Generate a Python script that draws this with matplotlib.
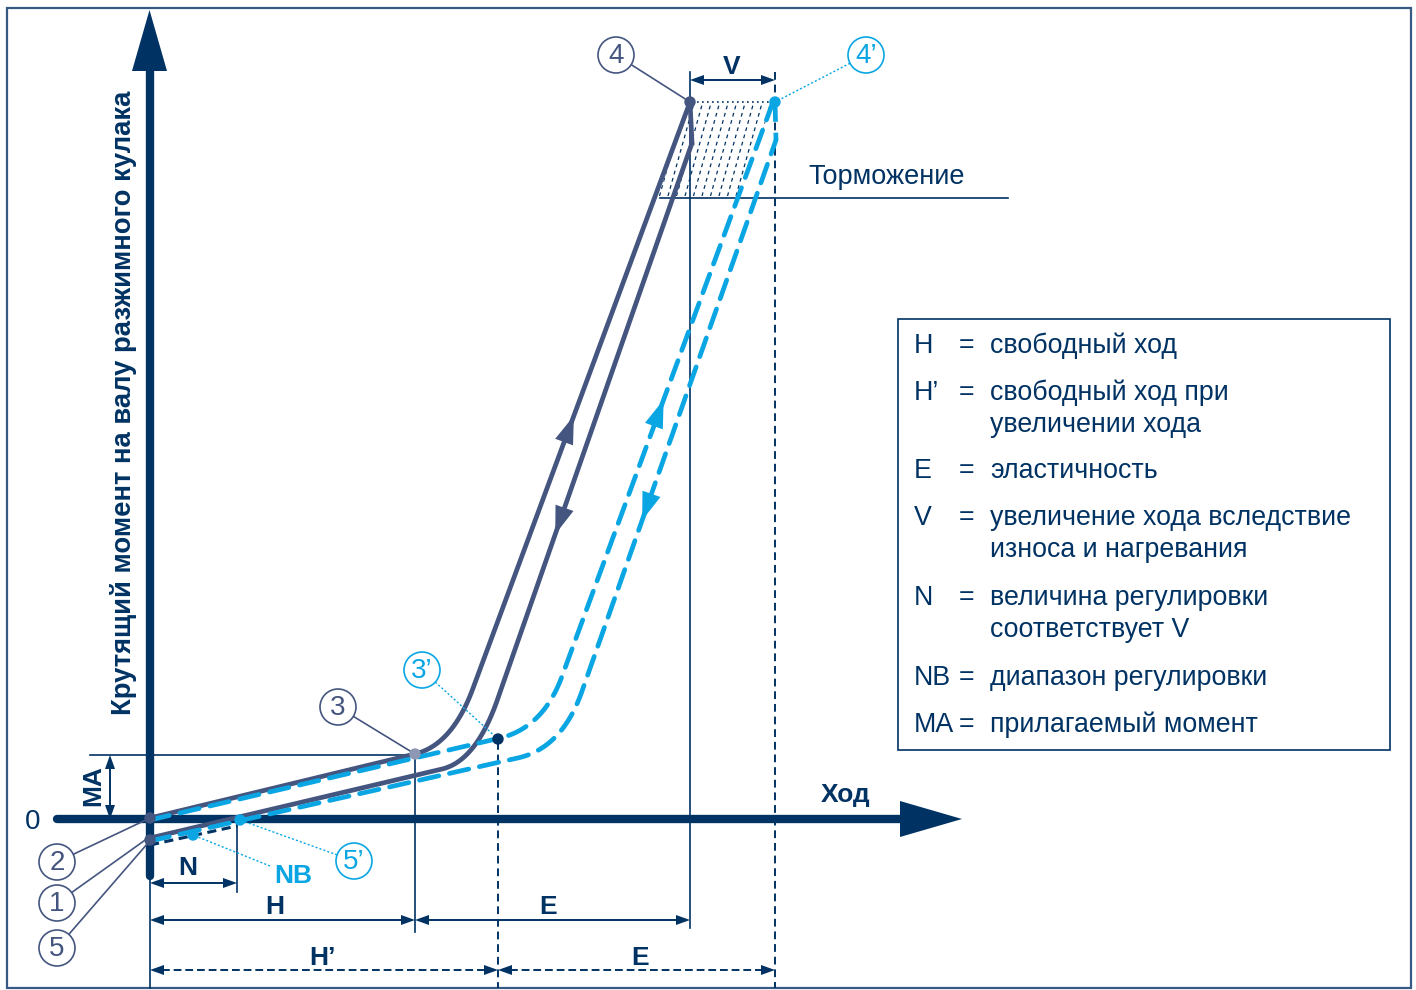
import numpy as np
import matplotlib
matplotlib.use("Agg")
import matplotlib.pyplot as plt
from matplotlib.patches import Polygon, Circle, Rectangle

plt.rcParams['font.family'] = ['Liberation Sans', 'DejaVu Sans']

NAVY = '#003263'
SLATE = '#44557f'
BLUE = '#0aa6e4'
GREY = '#8d99b4'

# key points of the curves (pixel space, y down)
upper_solid = [(150, 818), (452, 745), (690, 102)]
lower_solid = [(150, 838), (476, 761), (692, 143)]
upper_blue = [(150, 820), (543, 728), (773, 102)]
lower_blue = [(150, 841), (562, 748), (776, 140)]
bend_solid = [(38, 60), (35, 65)]
bend_blue = [(45, 55), (45, 60)]
adjust_dash = [(150, 845), (237, 826)]

# direction arrows on the straight parts: curve, y, +1 up / -1 down
flow_arrows = [('upper_solid', 428, 1), ('lower_solid', 522, -1),
               ('upper_blue', 412, 1), ('lower_blue', 508, -1)]

# marked points
dots = [(150, 818, SLATE), (150, 840, SLATE), (415, 754, GREY), (498, 739, NAVY),
        (690, 102, SLATE), (775, 102, BLUE), (193, 835, BLUE), (240, 820, BLUE)]

# circled labels: text, centre, leader end, colour
circles = [("4", (616, 55), (690, 102), SLATE), ("4’", (866, 55), (775, 102), BLUE),
           ("3", (338, 707), (415, 754), SLATE), ("3’", (422, 670), (498, 739), BLUE),
           ("2", (57, 862), (150, 818), SLATE), ("1", (57, 903), (148, 838), SLATE),
           ("5", (57, 948), (148, 843), SLATE), ("5’", (354, 861), (240, 820), BLUE)]

# dimension x positions
x_origin, x_n, x_h, x_hp, x_e, x_ep = 150, 237, 415, 498, 690, 775
y_ma = 755

legend_sym = ["H", "H’", "E", "V", "N", "NB", "MA"]
legend_txt = [["свободный ход"], ["свободный ход при", "увеличении хода"], ["эластичность"],
              ["увеличение хода вследствие", "износа и нагревания"],
              ["величина регулировки", "соответствует V"], ["диапазон регулировки"],
              ["прилагаемый момент"]]
legend_y = [346, 393, 471, 518, 598, 678, 725]


def rounded(pts, d1, d2, n=40):
    p0, c, p2 = [np.array(p, float) for p in pts]
    a = c + (p0 - c) / np.linalg.norm(p0 - c) * d1
    b = c + (p2 - c) / np.linalg.norm(p2 - c) * d2
    t = np.linspace(0, 1, n)[:, None]
    q = (1 - t) ** 2 * a + 2 * (1 - t) * t * c + t ** 2 * b
    path = np.vstack([p0, q, p2])
    return path[:, 0], path[:, 1]


def tri(ax, tip, direction, color, L=14, W=10):
    u = np.array(direction, float)
    u /= np.linalg.norm(u)
    nrm = np.array([-u[1], u[0]])
    tip = np.array(tip, float)
    base = tip - u * L
    ax.add_patch(Polygon([tip, base + nrm * W / 2, base - nrm * W / 2],
                         closed=True, color=color, lw=0, zorder=6))


def dim(ax, x1, x2, y, ls='-'):
    if ls == '--':
        ax.plot([x1 + 12, x2 - 12], [y, y], color=NAVY, lw=1.4, dashes=(4, 2))
    else:
        ax.plot([x1 + 12, x2 - 12], [y, y], color=NAVY, lw=1.4)
    tri(ax, (x1, y), (-1, 0), NAVY)
    tri(ax, (x2, y), (1, 0), NAVY)


fig = plt.figure(figsize=(14.16, 9.9), dpi=100)
ax = fig.add_axes([0, 0, 1, 1])
ax.set_xlim(0, 1416)
ax.set_ylim(990, 0)
ax.axis('off')

# frame
ax.add_patch(Rectangle((7, 8), 1404, 980, fill=False, ec='#365a83', lw=1.6))

# hatched braking zone between the two left rising lines
zone = Polygon([(690, 102), (773, 102), (738, 196), (658, 196)], closed=True, fc='none', ec='none')
ax.add_patch(zone)
for x0 in np.arange(600, 790, 8.5):
    ln, = ax.plot([x0, x0 + 0.28 * 94], [196, 102], color=NAVY, lw=0.9, dashes=(3, 3))
    ln.set_clip_path(zone)
ax.plot([692, 775], [102, 102], color=NAVY, lw=1.2, ls=(0, (1, 2)))

# reference lines
ax.plot([660, 1008], [198, 198], color=NAVY, lw=1.2)
ax.plot([90, x_h], [y_ma, y_ma], color=NAVY, lw=1.2)
ax.plot([x_h, x_h], [y_ma, 932], color=NAVY, lw=1.2)
ax.plot([x_e, x_e], [72, 928], color=NAVY, lw=1.2)
ax.plot([x_hp, x_hp], [742, 988], color=NAVY, lw=1.4, dashes=(4, 2.5))
ax.plot([x_ep, x_ep], [72, 988], color=NAVY, lw=1.4, dashes=(4, 2.5))
ax.plot([x_origin, x_origin], [870, 988], color=NAVY, lw=1.2)
ax.plot([x_n, x_n], [822, 892], color=NAVY, lw=1.2)

# axes
ax.plot([150, 150], [876, 70], color=NAVY, lw=6, solid_capstyle='round', zorder=3)
ax.add_patch(Polygon([(132, 71), (167, 71), (149.5, 10)], closed=True, color=NAVY, lw=0, zorder=3))
ax.plot([57, 902], [819, 819], color=NAVY, lw=6, solid_capstyle='round', zorder=3)
ax.add_patch(Polygon([(900, 801), (900, 837), (962, 819)], closed=True, color=NAVY, lw=0, zorder=3))

# curves
for pts, (d1, d2) in zip([upper_solid, lower_solid], bend_solid):
    x, y = rounded(pts, d1, d2)
    ax.plot(x, y, color=SLATE, lw=3.4, solid_capstyle='round', zorder=4)
ax.plot([690, lower_solid[2][0]], [102, lower_solid[2][1]], color=SLATE, lw=3.4, zorder=4)
for pts, (d1, d2) in zip([upper_blue, lower_blue], bend_blue):
    x, y = rounded(pts, d1, d2)
    ax.plot(x, y, color=BLUE, lw=3.4, dashes=(4.2, 2.3), dash_capstyle='round', zorder=4)
ax.plot([775, lower_blue[2][0]], [102, lower_blue[2][1]], color=BLUE, lw=3.4, dashes=(4.2, 2.3), zorder=4)
ax.plot(*zip(*adjust_dash), color=NAVY, lw=2.2, dashes=(3, 1.8), zorder=4)

curves = {'upper_solid': (upper_solid, SLATE), 'lower_solid': (lower_solid, SLATE),
          'upper_blue': (upper_blue, BLUE), 'lower_blue': (lower_blue, BLUE)}
for name, yc, sgn in flow_arrows:
    pts, col = curves[name]
    (x1, y1), (x2, y2) = pts[1], pts[2]
    xc = x1 + (yc - y1) / (y2 - y1) * (x2 - x1)
    u = np.array([x2 - x1, y2 - y1], float) * sgn
    u /= np.linalg.norm(u)
    tri(ax, np.array([xc, yc]) + u * 13, u, col, L=28, W=19)

for x, y, c in dots:
    ax.add_patch(Circle((x, y), 5, color=c, zorder=7))

# circled labels and leaders
for txt, (cx, cy), (lx, ly), col in circles:
    v = np.array([lx - cx, ly - cy], float)
    v /= np.linalg.norm(v)
    sx, sy = cx + v[0] * 18, cy + v[1] * 18
    if col == BLUE:
        ax.plot([sx, lx], [sy, ly], color=col, lw=1, ls=(0, (1.5, 1.5)), zorder=5)
    else:
        ax.plot([sx, lx], [sy, ly], color=col, lw=1.2, zorder=5)
    ax.add_patch(Circle((cx, cy), 18, fc='white', ec=col, lw=1.2, zorder=8))
    ax.text(cx, cy + 1, txt, color=col, fontsize=20, ha='center', va='center', zorder=9)

ax.plot([270, 193], [866, 835], color=BLUE, lw=1, ls=(0, (1.5, 1.5)), zorder=5)
ax.text(293, 876, "NB", color=BLUE, fontsize=19, fontweight='bold', ha='center', va='center')

# dimensions
dim(ax, x_origin, x_n, 883)
dim(ax, x_origin, x_h, 920)
dim(ax, x_h, x_e, 920)
dim(ax, x_origin, x_hp, 970, '--')
dim(ax, x_hp, x_ep, 970, '--')
dim(ax, x_e, x_ep, 80)
ax.plot([110, 110], [y_ma + 12, 807], color=NAVY, lw=1.4)
tri(ax, (110, y_ma), (0, -1), NAVY)
tri(ax, (110, 819), (0, 1), NAVY)

lab = dict(color=NAVY, fontsize=19, fontweight='bold', ha='center', va='center')
ax.text(188, 868, "N", **lab)
ax.text(275, 907, "H", **lab)
ax.text(548, 907, "E", **lab)
ax.text(322, 958, "H’", **lab)
ax.text(640, 958, "E", **lab)
ax.text(732, 67, "V", **lab)
ax.text(846, 795, "Ход", **lab)
ax.text(93, 786, "MA", rotation=90, **lab)
ax.text(33, 822, "0", color=NAVY, fontsize=20, ha='center', va='center')
ax.text(124, 403, "Крутящий момент на валу разжимного кулака", color=NAVY, fontsize=19.8,
        fontweight='bold', rotation=90, ha='center', va='center')
ax.text(808, 177, "Торможение", color=NAVY, fontsize=19.5, ha='left', va='center')

# legend box
ax.add_patch(Rectangle((898, 319), 492, 431, fill=False, ec=NAVY, lw=1.2))
for sym, lines, y in zip(legend_sym, legend_txt, legend_y):
    ax.text(914, y, sym, color=NAVY, fontsize=19.3, ha='left', va='center')
    ax.text(967, y, "=", color=NAVY, fontsize=19.3, ha='center', va='center')
    for k, line in enumerate(lines):
        ax.text(990, y + 32 * k, line, color=NAVY, fontsize=19.3, ha='left', va='center')

fig.savefig("out.png", dpi=100)
